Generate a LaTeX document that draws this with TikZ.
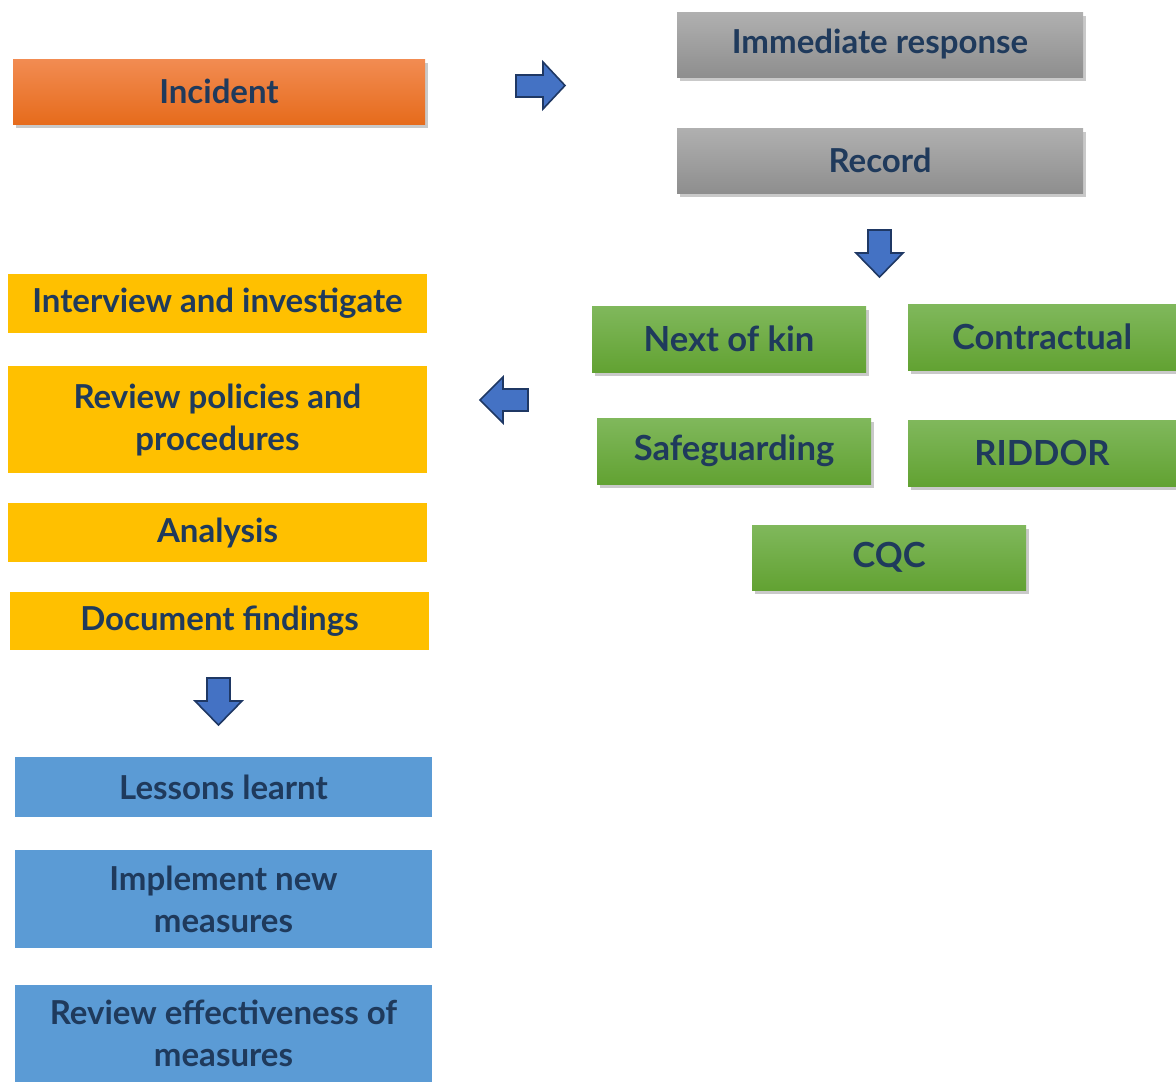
\documentclass[tikz,border=0pt]{standalone}
\usepackage{fontspec}
\setmainfont{Lato}
\usetikzlibrary{shadows}
\definecolor{txt}{HTML}{1F3A5C}
\definecolor{arrfill}{HTML}{4472C4}
\definecolor{arrdraw}{HTML}{1F3864}
\definecolor{yel}{HTML}{FFC000}
\definecolor{blu}{HTML}{5B9BD5}
\definecolor{orT}{HTML}{F28C52}
\definecolor{orB}{HTML}{E66B1C}
\definecolor{grT}{HTML}{80B85C}
\definecolor{grB}{HTML}{62A232}
\definecolor{gyT}{HTML}{B0B0B0}
\definecolor{gyB}{HTML}{8E8E8E}
\tikzset{
  bx/.style={inner sep=0pt, align=center, text=txt, font=\fontsize{16.5pt}{21pt}\selectfont\bfseries},
  shadowed/.style={drop shadow={shadow xshift=1.5pt, shadow yshift=-2pt, opacity=0.3, fill=black!70}},
  orangebox/.style={bx, shadowed, top color=orT, bottom color=orB},
  graybox/.style={bx, shadowed, top color=gyT, bottom color=gyB},
  greenbox/.style={bx, shadowed, top color=grT, bottom color=grB, font=\fontsize{17.3pt}{21pt}\selectfont\bfseries},
  yellowbox/.style={bx, fill=yel},
  bluebox/.style={bx, fill=blu},
  blockarrow/.style={fill=arrfill, draw=arrdraw, line width=0.8pt, line join=miter},
}
\begin{document}
\begin{tikzpicture}[x=0.5pt,y=-0.5pt]
\useasboundingbox (0,0) rectangle (1176,1082);
% top
\node[orangebox, minimum width=206pt, minimum height=32.5pt] (incident) at (219,91.5) {Incident};
\node[graybox, minimum width=203pt, minimum height=32.5pt] (immediate) at (880,44.5) {Immediate response};
\node[graybox, minimum width=203pt, minimum height=32.5pt] (record) at (880,160.5) {Record};
% green
\node[greenbox, minimum width=137pt, minimum height=33pt] (kin) at (729,339) {Next of kin};
\node[greenbox, minimum width=134pt, minimum height=33pt] (contract) at (1042,337) {Contractual};
\node[greenbox, minimum width=137pt, minimum height=33pt] (safe) at (734,451) {Safeguarding};
\node[greenbox, minimum width=134pt, minimum height=33pt] (riddor) at (1042,453) {RIDDOR};
\node[greenbox, minimum width=137pt, minimum height=32.5pt] (cqc) at (889,557.5) {CQC};
% yellow
\node[yellowbox, minimum width=209.5pt, minimum height=29.5pt] (interview) at (217.5,303.5) {Interview and investigate};
\node[yellowbox, minimum width=209.5pt, minimum height=53.5pt] (policies) at (217.5,419.5) {Review policies and\\procedures};
\node[yellowbox, minimum width=209.5pt, minimum height=29.5pt] (analysis) at (217.5,532.5) {Analysis};
\node[yellowbox, minimum width=209.5pt, minimum height=29pt] (document) at (219.5,621) {Document findings};
% blue
\node[bluebox, minimum width=208.5pt, minimum height=30pt] (lessons) at (223.5,787) {Lessons learnt};
\node[bluebox, minimum width=208.5pt, minimum height=49pt] (implement) at (223.5,899) {Implement new\\measures};
\node[bluebox, minimum width=208.5pt, minimum height=48.5pt] (effect) at (223.5,1033.5) {Review effectiveness of\\measures};
% block arrows
\draw[blockarrow] (516,75) -- (543,75) -- (543,62) -- (565,85.5) -- (543,109) -- (543,97) -- (516,97) -- cycle;
\draw[blockarrow] (868,230) -- (891,230) -- (891,253) -- (903,253) -- (879.5,277) -- (856,253) -- (868,253) -- cycle;
\draw[blockarrow] (528,389) -- (503,389) -- (503,377) -- (480,400) -- (503,423) -- (503,411) -- (528,411) -- cycle;
\draw[blockarrow] (207,678) -- (230,678) -- (230,701) -- (242,701) -- (218.5,725) -- (195,701) -- (207,701) -- cycle;
\end{tikzpicture}
\end{document}
